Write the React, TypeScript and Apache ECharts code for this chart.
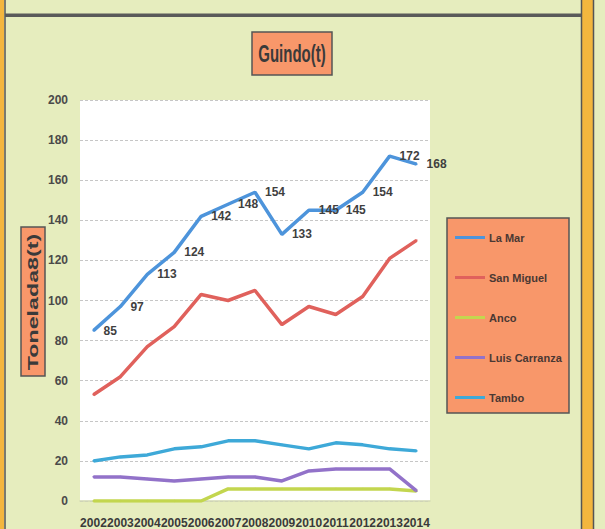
import React, { useEffect, useRef } from 'react';
import * as echarts from 'echarts';

const years = ['2002', '2003', '2004', '2005', '2006', '2007', '2008', '2009', '2010', '2011', '2012', '2013', '2014'];
const laMar = [85, 97, 113, 124, 142, 148, 154, 133, 145, 145, 154, 172, 168];
const sanMiguel = [53, 62, 77, 87, 103, 100, 105, 88, 97, 93, 102, 121, 130];
const anco = [0, 0, 0, 0, 0, 6, 6, 6, 6, 6, 6, 6, 5];
const luisCarranza = [12, 12, 11, 10, 11, 12, 12, 10, 15, 16, 16, 16, 5];
const tambo = [20, 22, 23, 26, 27, 30, 30, 28, 26, 29, 28, 26, 25];
const yTicks = { min: 0, max: 200, interval: 20 };

const FONT = "'Liberation Sans', Arial, sans-serif";
const ORANGE = '#f8976a';
const STRIP = '#f3b63e';
const DARK = '#555555';

export default function App() {
  const ref = useRef<HTMLDivElement>(null);
  useEffect(() => {
    const chart = echarts.init(ref.current!, null, { renderer: 'svg' });
    const mk = (name: string, data: number[], color: string, extra: any = {}) => ({
      type: 'line',
      name,
      data,
      symbol: 'circle',
      symbolSize: 2,
      showSymbol: true,
      lineStyle: { color, width: 3.5 },
      itemStyle: { color },
      emphasis: { disabled: true },
      ...extra,
    });
    chart.setOption({
      animation: false,
      backgroundColor: '#e6edbe',
      textStyle: { fontFamily: FONT },
      grid: { left: 80, top: 100, width: 350, height: 404, show: true, backgroundColor: '#ffffff', borderWidth: 0 },
      xAxis: {
        type: 'category',
        data: years,
        boundaryGap: true,
        axisLine: { lineStyle: { color: '#d2d9b2', width: 1.5 } },
        axisTick: { show: false },
        axisLabel: { color: '#3a3a3a', fontWeight: 'bold', fontSize: 12, margin: 16, interval: 0, fontFamily: FONT },
      },
      yAxis: {
        type: 'value',
        min: yTicks.min,
        max: yTicks.max,
        interval: yTicks.interval,
        axisLine: { show: false },
        axisTick: { show: false },
        splitLine: { lineStyle: { color: '#c6c6c6', type: [3, 2], width: 1 } },
        axisLabel: { color: '#4a4a4a', fontWeight: 'bold', fontSize: 12, margin: 12, fontFamily: FONT },
      },
      legend: {
        orient: 'vertical',
        left: 455,
        top: 232,
        itemWidth: 30,
        itemHeight: 3,
        itemGap: 29,
        icon: 'rect',
        padding: 0,
        textStyle: { color: '#4a3833', fontWeight: 'bold', fontSize: 11, fontFamily: FONT, padding: [0, 0, 0, -1] },
        data: ['La Mar', 'San Miguel', 'Anco', 'Luis Carranza', 'Tambo'],
      },
      graphic: [
        { type: 'rect', shape: { x: 0, y: 0, width: 4, height: 529 }, style: { fill: STRIP } },
        { type: 'line', shape: { x1: 5, y1: 0, x2: 5, y2: 529 }, style: { stroke: DARK, lineWidth: 1.5 } },
        { type: 'rect', shape: { x: 582, y: 0, width: 11, height: 529 }, style: { fill: STRIP } },
        { type: 'line', shape: { x1: 581.5, y1: 0, x2: 581.5, y2: 529 }, style: { stroke: DARK, lineWidth: 1.5 } },
        { type: 'line', shape: { x1: 593.5, y1: 0, x2: 593.5, y2: 529 }, style: { stroke: DARK, lineWidth: 1.5 } },
        { type: 'rect', shape: { x: 5, y: 13.5, width: 576, height: 3.5 }, style: { fill: '#5a5a5a' } },
        { type: 'rect', shape: { x: 252, y: 32, width: 80, height: 43 }, style: { fill: ORANGE, stroke: DARK, lineWidth: 1.5 } },
        {
          type: 'text', x: 292, y: 54, scaleY: 1.55,
          style: { text: 'Guindo(t)', fontFamily: FONT, fontWeight: 'bold', fontSize: 15, fill: '#3a3a3a', align: 'center', verticalAlign: 'middle' },
        },
        { type: 'rect', shape: { x: 21, y: 227, width: 24, height: 149 }, style: { fill: ORANGE, stroke: DARK, lineWidth: 1.5 } },
        {
          type: 'text', x: 33, y: 302, rotation: Math.PI / 2, scaleX: 1.55,
          style: { text: 'Tonelada8(t)', fontFamily: FONT, fontWeight: 'bold', fontSize: 15, fill: '#3a3a3a', align: 'center', verticalAlign: 'middle' },
        },
        { type: 'rect', z: -1, shape: { x: 447, y: 218, width: 122, height: 195 }, style: { fill: ORANGE, stroke: DARK, lineWidth: 1.5 } },
      ],
      series: [
        mk('La Mar', laMar, '#4d94db', {
          label: { show: true, position: 'right', distance: 9, color: '#3f3f3f', fontWeight: 'bold', fontSize: 12, fontFamily: FONT },
        }),
        mk('San Miguel', sanMiguel, '#e0615c'),
        mk('Anco', anco, '#c3d64f'),
        mk('Luis Carranza', luisCarranza, '#9272c9'),
        mk('Tambo', tambo, '#3ea9d8'),
      ],
    });
    return () => chart.dispose();
  }, []);
  return <div ref={ref} style={{ position: 'fixed', left: 0, top: 0, width: 605, height: 529 }} />;
}
